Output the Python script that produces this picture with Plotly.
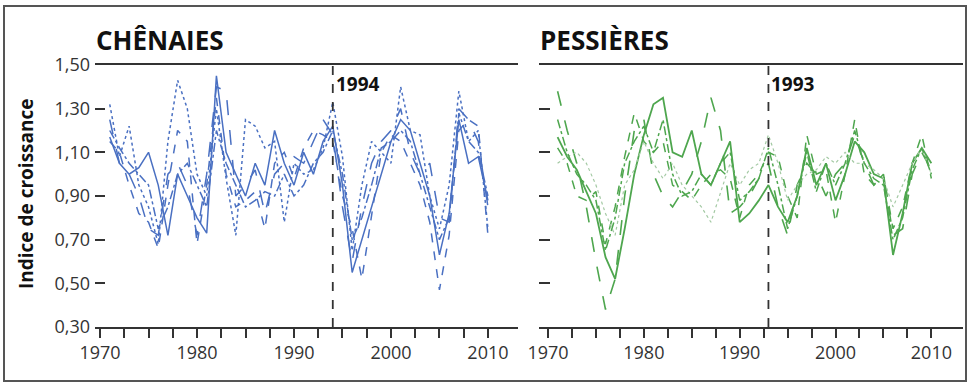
import plotly.graph_objects as go

years = list(range(1971, 2011))

# Chênaies (oak) series
oak_solid = [1.17,1.05,1.00,1.03,1.10,0.95,0.72,1.00,0.90,0.80,0.73,1.45,1.10,1.00,0.90,1.05,0.95,1.20,1.05,0.95,
             1.10,1.00,1.15,1.22,0.95,0.55,0.70,0.85,1.00,1.15,1.25,1.20,1.05,0.90,0.63,0.82,1.25,1.05,1.08,0.88]
oak_dot = [1.32,1.08,1.22,0.95,0.85,0.68,1.15,1.43,1.30,1.00,0.90,1.30,0.98,0.72,1.25,1.22,1.12,1.15,0.78,1.05,
           1.00,1.02,1.12,1.33,1.08,0.65,0.95,1.15,1.10,1.05,1.40,1.20,1.18,0.90,0.75,0.95,1.38,1.15,1.20,0.75]
oak_longdash = [1.25,1.05,1.00,0.90,0.75,0.72,1.00,1.05,0.95,0.72,1.00,1.40,1.38,0.90,0.95,1.02,0.82,1.00,1.05,1.08,
                1.05,1.15,1.25,1.18,0.85,0.60,0.85,1.05,1.15,1.20,1.30,1.10,1.00,1.05,0.80,0.78,1.30,1.25,1.15,0.85]
oak_dash = [1.15,1.10,0.95,0.82,0.78,0.66,0.95,1.20,1.15,0.68,0.95,1.35,1.00,0.85,0.88,0.92,0.75,1.05,1.10,0.98,
            1.12,1.20,1.18,1.15,0.90,0.75,0.52,0.80,1.10,1.18,1.15,1.05,0.95,0.78,0.47,0.72,1.20,1.25,1.22,0.72]
oak_dashdot = [1.20,1.12,1.05,1.00,0.95,0.75,0.85,1.00,1.05,0.95,0.85,1.20,1.05,0.95,0.85,0.88,0.92,0.90,1.00,0.90,
               0.95,1.05,1.10,1.20,1.00,0.70,0.80,0.95,1.12,1.15,1.20,1.15,1.00,0.85,0.70,0.80,1.28,1.15,1.10,0.90]

# Pessières (spruce) series
spr_solid = [1.17,1.08,1.02,0.92,0.82,0.62,0.52,0.75,1.00,1.18,1.32,1.35,1.10,1.08,1.20,1.00,0.95,1.05,1.15,0.78,
             0.82,0.88,0.95,0.85,0.78,0.90,1.12,0.95,1.05,0.88,1.00,1.15,1.10,1.00,0.98,0.63,0.82,1.05,1.12,1.05]
spr_longdash = [1.38,1.20,1.05,0.85,0.60,0.38,0.52,0.90,1.20,1.25,1.00,0.90,0.85,0.92,1.00,1.15,1.35,1.20,0.82,0.85,
                0.90,0.98,1.05,0.85,0.72,0.95,1.05,1.00,0.90,1.00,1.05,1.18,1.05,0.95,1.00,0.72,0.75,1.00,1.10,1.02]
spr_dash = [1.12,1.05,0.90,0.88,0.92,0.68,0.85,1.08,1.28,1.15,1.10,1.15,0.95,0.92,0.88,0.95,1.00,1.02,0.98,0.80,
            0.95,1.00,1.10,1.08,0.90,0.80,1.18,1.00,1.02,0.78,1.00,1.25,1.00,0.95,1.00,0.75,0.85,1.05,1.18,0.98]
spr_dot = [1.05,1.08,1.10,1.05,0.95,0.82,0.72,0.95,1.02,1.15,1.05,0.98,1.05,0.95,0.90,0.85,0.78,0.92,1.05,0.95,
           1.02,1.05,1.18,1.05,0.88,0.95,1.00,1.02,1.08,1.05,1.10,1.05,1.05,1.02,0.98,0.85,0.95,1.05,1.12,1.00]
spr_dashdot = [1.25,1.10,1.00,0.95,0.88,0.65,0.80,1.05,1.15,1.22,1.10,1.25,1.00,0.90,0.92,1.00,0.95,1.05,1.10,0.88,
               0.92,0.98,1.12,0.95,0.75,0.90,1.10,0.92,1.05,0.95,1.05,1.20,1.05,0.98,0.95,0.70,0.80,1.02,1.12,1.00]

ytick_vals = [0.30, 0.50, 0.70, 0.90, 1.10, 1.30, 1.50]
ytick_text = ["0,30", "0,50", "0,70", "0,90", "1,10", "1,30", "1,50"]
xtick_vals = [1970 + 2.5 * i for i in range(17)]
xtick_text = [str(int(v)) if v % 10 == 0 else "" for v in xtick_vals]

panel_titles = ["CHÊNAIES", "PESSIÈRES"]
break_years = [1994, 1993]

BLUE = "#4a70c2"
GREEN = "#4ea64e"
GREEN_LIGHT = "#a3c9a3"

fig = go.Figure()

oak = [(oak_solid, "solid"), (oak_dot, "dot"), (oak_longdash, "longdash"), (oak_dash, "dash"), (oak_dashdot, "dashdot")]
for vals, dash in oak:
    fig.add_trace(go.Scatter(x=years, y=vals, mode="lines", xaxis="x", yaxis="y",
                             line=dict(color=BLUE, width=1.5, dash=dash), showlegend=False))

spr = [(spr_solid, "solid", GREEN, 1.8), (spr_longdash, "longdash", GREEN, 1.6), (spr_dash, "dash", GREEN, 1.5),
       (spr_dot, "dot", GREEN_LIGHT, 1.2), (spr_dashdot, "dashdot", GREEN, 1.5)]
for vals, dash, col, w in spr:
    fig.add_trace(go.Scatter(x=years, y=vals, mode="lines", xaxis="x2", yaxis="y2",
                             line=dict(color=col, width=w, dash=dash), showlegend=False))

W, H = 970, 383
def px(x):
    return x / W
def py(y):
    return 1 - y / H

ydom = [py(327), py(65)]
axis_line = dict(showline=True, linecolor="#333333", linewidth=1.6, mirror=True)
tickfont = dict(family="Open Sans", size=18, color="#333333")

fig.update_layout(
    width=W, height=H,
    margin=dict(l=0, r=0, t=0, b=0, autoexpand=False),
    paper_bgcolor="white", plot_bgcolor="white",
    xaxis=dict(domain=[px(95), px(518)], range=[1969.48, 2013.1], anchor="y", automargin=False,
               tickvals=xtick_vals, ticktext=xtick_text, ticks="outside", ticklen=9,
               tickcolor="#333333", tickwidth=1.5, showgrid=False, zeroline=False,
               tickfont=tickfont, **axis_line),
    yaxis=dict(domain=ydom, range=[0.3, 1.5], anchor="x", automargin=False,
               tickvals=ytick_vals, ticktext=ytick_text,
               ticks="inside", ticklen=10, tickcolor="#333333", tickwidth=1.5, showline=False,
               showgrid=False, zeroline=False, tickfont=tickfont, ticklabelstandoff=4),
    xaxis2=dict(domain=[px(539), px(963)], range=[1969.06, 2013.3], anchor="y2", automargin=False,
                tickvals=xtick_vals, ticktext=xtick_text, ticks="outside", ticklen=9,
                tickcolor="#333333", tickwidth=1.5, showgrid=False, zeroline=False,
                tickfont=tickfont, **axis_line),
    yaxis2=dict(domain=ydom, range=[0.3, 1.5], anchor="x2", automargin=False, tickvals=ytick_vals,
                ticktext=[""] * len(ytick_vals), ticks="inside", ticklen=11, tickcolor="#333333",
                tickwidth=1.5, showline=False, showgrid=False, zeroline=False),
)

# vertical break lines and their labels
for i, (xa, ya) in enumerate([("x", "y"), ("x2", "y2")]):
    fig.add_shape(type="line", xref=xa, yref=ya, x0=break_years[i], x1=break_years[i], y0=0.3, y1=1.5,
                  line=dict(color="#333333", width=1.8, dash="dash"))
    fig.add_annotation(xref=xa, yref=ya, x=break_years[i], y=1.5, text="<b>%d</b>" % break_years[i],
                       showarrow=False, xanchor="left", yanchor="top", xshift=1, yshift=-4,
                       font=dict(family="Open Sans", size=19, color="#111111"))

# panel titles
fig.add_annotation(xref="paper", yref="paper", x=px(94), y=py(40), text="<b>" + panel_titles[0] + "</b>",
                   showarrow=False, xanchor="left", yanchor="middle",
                   font=dict(family="Open Sans", size=26, color="#111111"))
fig.add_annotation(xref="paper", yref="paper", x=px(538), y=py(40), text="<b>" + panel_titles[1] + "</b>",
                   showarrow=False, xanchor="left", yanchor="middle",
                   font=dict(family="Open Sans", size=26, color="#111111"))

# y-axis title
fig.add_annotation(xref="paper", yref="paper", x=px(26), y=py(194), text="<b>Indice de croissance</b>",
                   showarrow=False, textangle=-90, xanchor="center", yanchor="middle",
                   font=dict(family="Open Sans", size=19, color="#111111"))

# outer frame
fig.add_shape(type="rect", xref="paper", yref="paper", x0=px(4), x1=px(966), y0=py(381), y1=py(6),
              line=dict(color="#555555", width=2))

fig.write_html("out.html", config={"displayModeBar": False},
               post_script="document.body.style.margin='0';document.body.style.overflow='hidden';")
